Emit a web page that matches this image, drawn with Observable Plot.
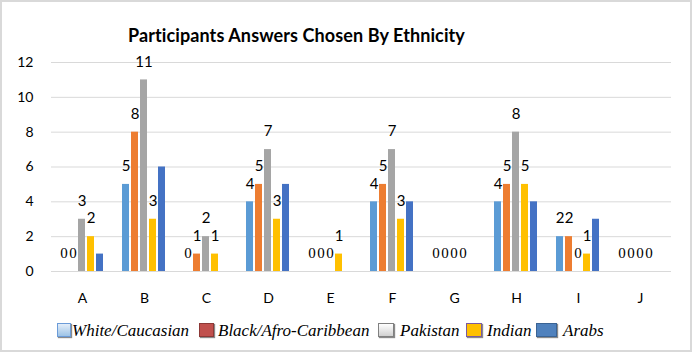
<!DOCTYPE html>
<html>
<head>
<meta charset="utf-8">
<script src="https://cdn.jsdelivr.net/npm/d3@7"></script>
<script src="https://cdn.jsdelivr.net/npm/@observablehq/plot@0.6"></script>
<style>
  html, body { margin: 0; padding: 0; background: #fff; }
  #wrap { position: relative; width: 692px; height: 353px; overflow: hidden; background: #fff; }
  #frame { position: absolute; left: 0; top: 0; width: 692px; height: 352px; box-sizing: border-box; border: 2px solid #d9d9d9; }
  #title { position: absolute; left: 128px; top: 24px; font-family: Lato, "Open Sans", sans-serif; font-weight: bold; font-size: 18px; letter-spacing: 0.1px; color: #000; white-space: nowrap; }
  #chart { position: absolute; left: 0; top: 0; }
  .sw { position: absolute; top: 323px; height: 14px; box-sizing: border-box; box-shadow: 1px 1px 1px #8a8a8a; }
  .lt { position: absolute; top: 321px; font-family: "Times New Roman", "Liberation Serif", "DejaVu Serif", serif; font-style: italic; font-size: 17px; color: #000; white-space: nowrap; }
</style>
</head>
<body>
<div id="wrap">
  <div id="frame"></div>
  <div id="chart"></div>
  <div id="title"></div>
  <div id="legend"></div>
</div>
<script>
const categories = ["A", "B", "C", "D", "E", "F", "G", "H", "I", "J"];
const series = ["White/Caucasian", "Black/Afro-Caribbean", "Pakistan", "Indian", "Arabs"];
const white    = [0, 5, 0, 4, 0, 4, 0, 4, 2, 0];
const black    = [0, 8, 1, 5, 0, 5, 0, 5, 2, 0];
const pakistan = [3, 11, 2, 7, 0, 7, 0, 8, 0, 0];
const indian   = [2, 3, 1, 3, 1, 3, 0, 5, 1, 0];
const arabs    = [1, 6, 0, 5, 0, 4, 0, 4, 3, 0];
const labelledSeries = ["White/Caucasian", "Black/Afro-Caribbean", "Pakistan", "Indian"];
const yTicks = [0, 2, 4, 6, 8, 10, 12];
const barColors = ["#5B9BD5", "#ED7D31", "#A5A5A5", "#FFC000", "#4472C4"];
const titleText = "Participants Answers Chosen By Ethnicity";

const seriesValues = [white, black, pakistan, indian, arabs];
const rows = categories.flatMap((c, i) => series.map((s, j) => ({cat: c, series: s, value: seriesValues[j][i]})));
const labelRows = rows.filter(d => labelledSeries.includes(d.series));

const chart = Plot.plot({
  width: 692,
  height: 320,
  marginLeft: 48,
  marginRight: 19,
  marginTop: 62,
  marginBottom: 49,
  style: {fontFamily: "Lato, sans-serif", fontSize: "14px", color: "#000", background: "transparent"},
  fx: {domain: categories, padding: 0, label: null},
  x: {domain: series, paddingInner: 0.22, paddingOuter: 0.87, axis: null},
  y: {domain: [0, 12], label: null},
  color: {domain: series, range: barColors},
  marks: [
    Plot.gridY(yTicks, {stroke: "#d9d9d9", strokeOpacity: 1, strokeWidth: 1}),
    Plot.axisY(yTicks, {tickSize: 0, tickPadding: 18, fontSize: 14, label: null}),
    Plot.axisFx({anchor: "bottom", tickSize: 0, tickPadding: 22, fontSize: 14, label: null}),
    Plot.barY(rows, {fx: "cat", x: "series", y: "value", fill: "series"}),
    Plot.text(labelRows.filter(d => d.value !== 0), {fx: "cat", x: "series", y: "value", text: d => String(d.value), dy: -18, fontSize: 15, fill: "#000"}),
    Plot.text(labelRows.filter(d => d.value === 0), {fx: "cat", x: "series", y: "value", text: d => String(d.value), dy: -18, fontSize: 15, fontFamily: "Times New Roman, Liberation Serif, serif", fill: "#000"})
  ]
});
document.getElementById("chart").appendChild(chart);
document.getElementById("title").textContent = titleText;

const legendSwatches = [
  {x: 57, w: 14, bg: "linear-gradient(#e3edf9, #9dc3e6)", border: "#6b9bd8"},
  {x: 199, w: 15, bg: "#C0504D", border: "#8c3836"},
  {x: 378, w: 16, bg: "linear-gradient(#ffffff, #d0d0d0)", border: "#808080"},
  {x: 466, w: 16, bg: "#FFC000", border: "#7a5aa0"},
  {x: 536, w: 21, bg: "#4F81BD", border: "#3a6394"}
];
const legendTextX = [72, 218, 400, 487, 563];
const legend = document.getElementById("legend");
series.forEach((s, i) => {
  const sw = document.createElement("div");
  sw.className = "sw";
  const o = legendSwatches[i];
  sw.style.left = o.x + "px";
  sw.style.width = o.w + "px";
  sw.style.background = o.bg;
  sw.style.border = "1px solid " + o.border;
  legend.appendChild(sw);
  const t = document.createElement("div");
  t.className = "lt";
  t.style.left = legendTextX[i] + "px";
  t.textContent = s;
  legend.appendChild(t);
});
</script>
</body>
</html>
